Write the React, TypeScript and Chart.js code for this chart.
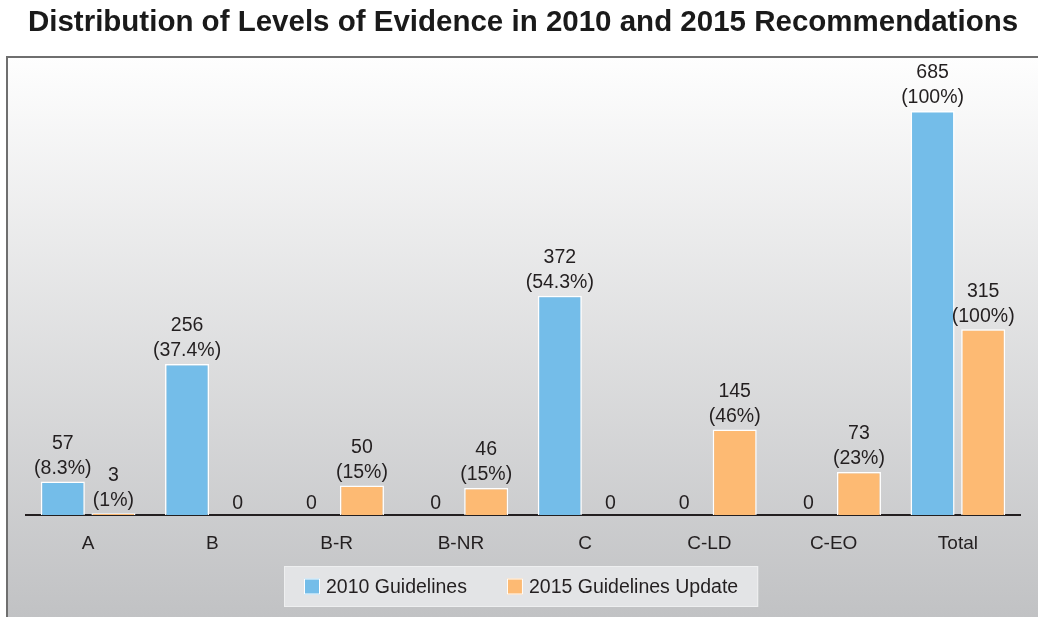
import React, { useEffect, useRef } from "react";
import { Chart, registerables } from "chart.js";

Chart.register(...registerables);

const categories = ["A", "B", "B-R", "B-NR", "C", "C-LD", "C-EO", "Total"];
const values2010 = [57, 256, 0, 0, 372, 0, 0, 685];
const values2015 = [3, 0, 50, 46, 0, 145, 73, 315];
const pct2010 = ["8.3%", "37.4%", "", "", "54.3%", "", "", "100%"];
const pct2015 = ["1%", "", "15%", "15%", "", "46%", "23%", "100%"];
const seriesLabels = ["2010 Guidelines", "2015 Guidelines Update"];
const titleText = "Distribution of Levels of Evidence in 2010 and 2015 Recommendations";

const FONT = '"Liberation Sans", Arial, Helvetica, sans-serif';
const BLUE = "#74bde9";
const ORANGE = "#fdba73";
const TEXT = "#231f20";

const backgroundPlugin = {
  id: "panelBackground",
  beforeDraw(chart: any) {
    const { ctx, width, height } = chart;
    ctx.save();
    ctx.fillStyle = "#ffffff";
    ctx.fillRect(0, 0, width, height);
    const g = ctx.createLinearGradient(0, 57, 0, height);
    g.addColorStop(0, "#fefefe");
    g.addColorStop(1, "#c1c2c4");
    ctx.fillStyle = g;
    ctx.fillRect(7, 57, width - 7, height - 57);
    ctx.strokeStyle = "#6f6f6f";
    ctx.lineWidth = 2;
    ctx.beginPath();
    ctx.moveTo(7, height);
    ctx.lineTo(7, 57);
    ctx.lineTo(width, 57);
    ctx.stroke();
    ctx.restore();
  },
};

const labelPlugin = {
  id: "barLabels",
  afterDatasetsDraw(chart: any) {
    const { ctx } = chart;
    const pcts = [pct2010, pct2015];
    ctx.save();
    ctx.font = `19.5px ${FONT}`;
    ctx.fillStyle = TEXT;
    ctx.textAlign = "center";
    ctx.textBaseline = "middle";
    chart.data.datasets.forEach((ds: any, i: number) => {
      const meta = chart.getDatasetMeta(i);
      meta.data.forEach((bar: any, j: number) => {
        const v = ds.data[j];
        if (v === 0) {
          ctx.fillText("0", bar.x, bar.y - 11);
        } else {
          ctx.fillText(`(${pcts[i][j]})`, bar.x, bar.y - 13);
          ctx.fillText(String(v), bar.x, bar.y - 38);
        }
      });
    });
    ctx.restore();
  },
};

const legendPlugin = {
  id: "boxLegend",
  afterDraw(chart: any) {
    const { ctx, width } = chart;
    ctx.save();
    ctx.font = `19.5px ${FONT}`;
    const datasets = chart.data.datasets;
    const box = 16;
    const gapText = 6;
    const gapItem = 40;
    const padX = 20;
    const widths = datasets.map((d: any) => ctx.measureText(d.label).width);
    let total = 0;
    widths.forEach((w: number, i: number) => {
      total += box + gapText + w + (i < widths.length - 1 ? gapItem : 0);
    });
    const boxW = total + padX * 2;
    const left = Math.round(width / 2 + 2 - boxW / 2);
    const top = 566;
    const h = 41;
    ctx.fillStyle = "#e3e4e6";
    ctx.fillRect(left, top, boxW, h);
    ctx.strokeStyle = "#eeeff0";
    ctx.lineWidth = 1;
    ctx.strokeRect(left + 0.5, top + 0.5, boxW - 1, h - 1);
    let x = left + padX;
    const cy = top + h / 2;
    datasets.forEach((d: any, i: number) => {
      ctx.fillStyle = d.backgroundColor;
      ctx.fillRect(x, cy - box / 2, box, box);
      ctx.strokeStyle = "#ffffff";
      ctx.lineWidth = 1;
      ctx.strokeRect(x + 0.5, cy - box / 2 + 0.5, box - 1, box - 1);
      ctx.fillStyle = TEXT;
      ctx.textAlign = "left";
      ctx.textBaseline = "middle";
      ctx.fillText(d.label, x + box + gapText, cy + 1);
      x += box + gapText + widths[i] + gapItem;
    });
    ctx.restore();
  },
};

export default function App() {
  const ref = useRef<HTMLCanvasElement | null>(null);
  useEffect(() => {
    if (!ref.current) return;
    const chart = new Chart(ref.current, {
      type: "bar",
      data: {
        labels: categories,
        datasets: [
          {
            label: seriesLabels[0],
            data: values2010,
            backgroundColor: BLUE,
            borderColor: "#ffffff",
            borderWidth: 1.5,
            categoryPercentage: 0.815,
            barPercentage: 0.87,
          },
          {
            label: seriesLabels[1],
            data: values2015,
            backgroundColor: ORANGE,
            borderColor: "#ffffff",
            borderWidth: 1.5,
            categoryPercentage: 0.815,
            barPercentage: 0.87,
          },
        ],
      },
      options: {
        responsive: false,
        animation: false,
        devicePixelRatio: 1,
        layout: { padding: { top: 0, left: 26, right: 18, bottom: 0 } },
        plugins: {
          legend: { display: false },
          tooltip: { enabled: false },
          title: {
            display: true,
            text: titleText,
            color: "#1a1a1a",
            font: { size: 29.5, weight: "bold", family: FONT },
            padding: { top: 5, bottom: 20 },
          },
        },
        scales: {
          x: {
            grid: { display: false, drawTicks: false },
            border: { display: true, color: TEXT, width: 2 },
            ticks: {
              color: TEXT,
              font: { size: 19, family: FONT },
              padding: 17,
              maxRotation: 0,
              autoSkip: false,
            },
            afterFit: (scale: any) => {
              scale.height = 102;
            },
          },
          y: {
            display: false,
            min: 0,
            max: 771,
          },
        },
      },
      plugins: [backgroundPlugin, labelPlugin, legendPlugin],
    });
    return () => chart.destroy();
  }, []);
  return (
    <canvas
      ref={ref}
      width={1038}
      height={617}
      style={{ position: "fixed", left: 0, top: 0, display: "block" }}
    />
  );
}
